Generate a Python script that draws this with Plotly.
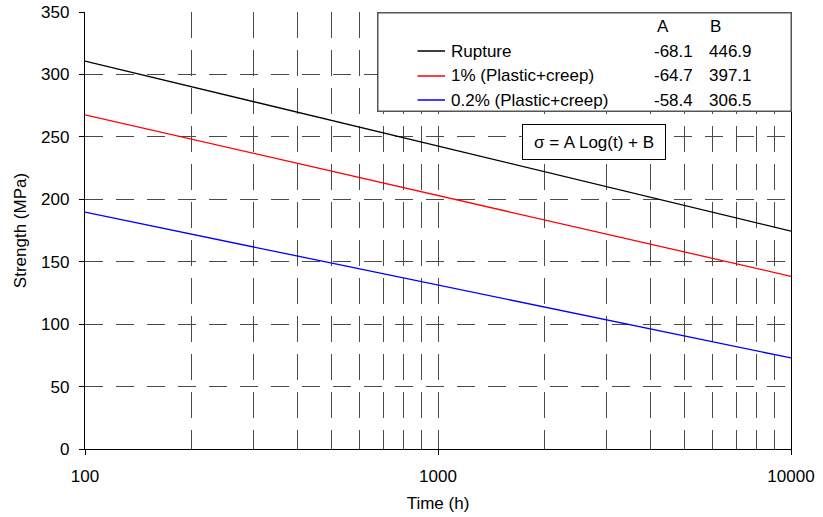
import plotly.graph_objects as go

# ---- data ----
time_h = [100, 150, 200, 300, 400, 500, 700, 1000, 1500, 2000, 3000, 5000, 7000, 10000]
rupture = [310.7, 298.7, 290.2, 278.2, 269.7, 263.1, 253.2, 242.6, 230.6, 222.1, 210.1, 195.0, 185.1, 174.5]
strain_1pct = [267.7, 256.3, 248.2, 236.8, 228.8, 222.5, 213.0, 203.0, 191.6, 183.5, 172.1, 157.8, 148.3, 138.3]
strain_02pct = [189.7, 179.4, 172.1, 161.8, 154.5, 148.9, 140.3, 131.3, 121.0, 113.7, 103.4, 90.5, 81.9, 72.9]

series_names = ["Rupture", "1% (Plastic+creep)", "0.2% (Plastic+creep)"]
series_colors = ["#000000", "#ff0000", "#0000ff"]
coef_A = ["-68.1", "-64.7", "-58.4"]
coef_B = ["446.9", "397.1", "306.5"]

x_major = [100, 1000, 10000]
x_major_text = ["100", "1000", "10000"]
x_minor = [200, 300, 400, 500, 600, 700, 800, 900,
           2000, 3000, 4000, 5000, 6000, 7000, 8000, 9000]
y_ticks = [0, 50, 100, 150, 200, 250, 300, 350]

FONT = "Liberation Sans, Arial, sans-serif"
FS = 17
GRID = "#4a4a4a"

fig = go.Figure()
for name, ys, col in zip(series_names, [rupture, strain_1pct, strain_02pct], series_colors):
    fig.add_trace(go.Scatter(x=time_h, y=ys, mode="lines", name=name,
                             line=dict(color=col, width=1.3)))

W, H = 823, 517
L, R, T, B = 85, 32, 12, 68

def px(xp):
    return (xp - L) / (W - L - R)

def py(yp):
    return 1 - (yp - T) / (H - T - B)

fig.update_layout(
    width=W, height=H,
    margin=dict(l=L, r=R, t=T, b=B, autoexpand=False),
    paper_bgcolor="white", plot_bgcolor="white",
    font=dict(family=FONT, size=FS, color="#000000"),
    showlegend=False,
    xaxis=dict(
        type="log", range=[2, 4], automargin=False,
        tickvals=x_major, ticktext=x_major_text,
        ticks="outside", ticklen=5, tickcolor="#000000",
        showline=True, linecolor="#000000", linewidth=1.3,
        showgrid=True, gridcolor=GRID, griddash="26px,12px", gridwidth=1,
        minor=dict(tickvals=x_minor, showgrid=True, gridcolor=GRID,
                   griddash="26px,12px", gridwidth=1, ticks=""),
        ticklabelstandoff=6,
        zeroline=False,
        title=dict(text="Time (h)", font=dict(size=FS), standoff=12),
        tickfont=dict(size=FS),
    ),
    yaxis=dict(
        range=[0, 350], tickvals=y_ticks, automargin=False,
        ticks="outside", ticklen=5, tickcolor="#000000",
        showline=True, linecolor="#000000", linewidth=1.3, mirror=True,
        showgrid=True, gridcolor=GRID, griddash="18px,13px", gridwidth=1,
        ticklabelstandoff=6,
        zeroline=False,
        title=dict(text="Strength (MPa)", font=dict(size=FS), standoff=10),
        tickfont=dict(size=FS),
    ),
)

# legend frame (white box covering the grid)
fig.add_annotation(xref="paper", yref="paper", x=px(377), y=py(12),
                   xanchor="left", yanchor="top", text=" ", showarrow=False,
                   width=412, height=97, bgcolor="white",
                   bordercolor="#555555", borderwidth=1.5, borderpad=0,
                   font=dict(family=FONT, size=FS))

def label(xp, yp, txt, anchor="center"):
    fig.add_annotation(xref="paper", yref="paper", x=px(xp), y=py(yp),
                       xanchor=anchor, yanchor="middle",
                       text=txt, showarrow=False,
                       font=dict(family=FONT, size=FS, color="#000000"))

row_y = [51, 76, 100]
label(663, 26, "A")
label(715, 26, "B")
for name, col, a, b, ry in zip(series_names, series_colors, coef_A, coef_B, row_y):
    # legend sample line
    fig.add_annotation(xref="paper", yref="paper", x=px(445), y=py(ry),
                       ax=-29, ay=0, text=" ", showarrow=True, arrowhead=0,
                       arrowwidth=1.3, arrowcolor=col, standoff=0, startstandoff=0,
                       font=dict(size=1))
    label(449, ry, name, anchor="left")
    label(673, ry, a)
    label(730, ry, b)

# equation box
fig.add_annotation(xref="paper", yref="paper", x=px(594), y=py(141.5),
                   xanchor="center", yanchor="middle",
                   text="σ = A Log(t) + B", showarrow=False,
                   width=142, height=34, align="center", valign="middle",
                   bgcolor="white", bordercolor="#000000", borderwidth=1, borderpad=0,
                   font=dict(family=FONT, size=FS, color="#000000"))

fig.write_html("out.html")
